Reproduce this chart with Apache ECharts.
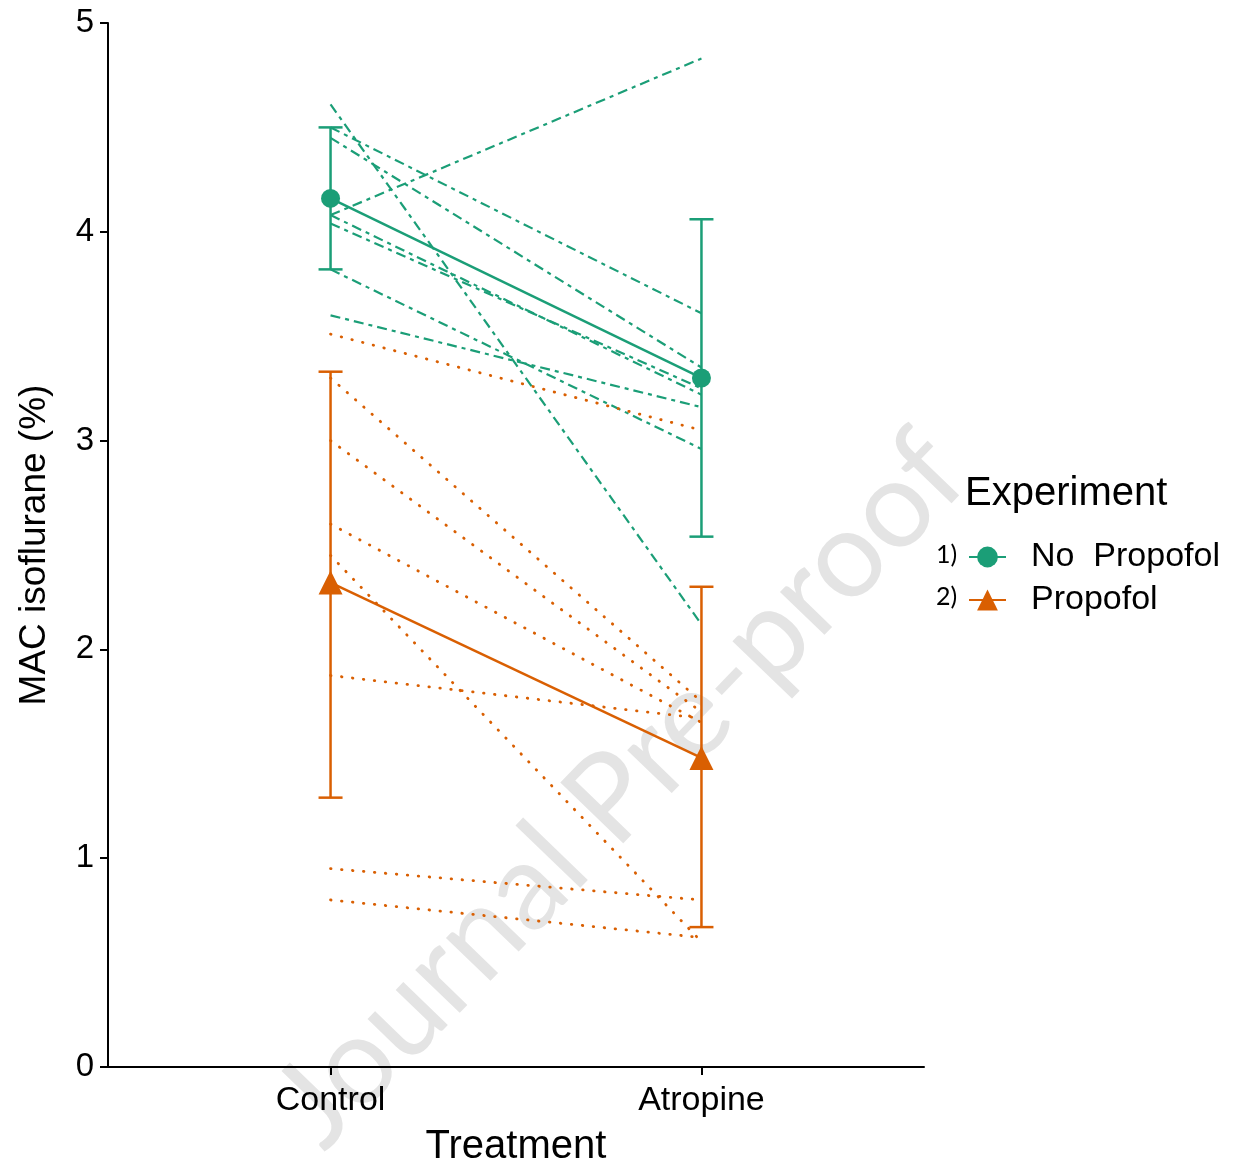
<!DOCTYPE html>
<html>
<head>
<meta charset="utf-8">
<script src="https://cdn.jsdelivr.net/npm/echarts@6/dist/echarts.min.js"></script>
<style>
html,body{margin:0;padding:0;background:#fff;}
#chart{width:1236px;height:1168px;}
</style>
</head>
<body>
<div id="chart"></div>
<script>
// ---- data ----
const categories = ['Control', 'Atropine'];
const catPos = [1, 2];
const yTicks = [0, 1, 2, 3, 4, 5];

// individual subjects, Experiment 1 (No Propofol)
const noPropofolControl  = [4.61, 4.50, 4.45, 4.08, 4.08, 4.04, 3.82, 3.60];
const noPropofolAtropine = [2.12, 3.61, 3.35, 4.83, 3.22, 3.25, 2.96, 3.16];
// individual subjects, Experiment 2 (Propofol)
const propofolControl  = [3.51, 3.30, 3.00, 2.60, 2.45, 1.875, 0.95, 0.80];
const propofolAtropine = [3.05, 1.75, 1.70, 1.65, 0.60, 1.67, 0.80, 0.62];

// means and error bars
const meanNoPropofol = [4.16, 3.30];
const errLowNoPropofol = [3.82, 2.54];
const errHighNoPropofol = [4.50, 4.06];
const meanPropofol = [2.32, 1.48];
const errLowPropofol = [1.29, 0.67];
const errHighPropofol = [3.33, 2.30];

const legendNames = ['No  Propofol', 'Propofol'];
const legendPrefixes = ['1)', '2)'];

// ---- styles ----
const GREEN = '#1b9e77';
const ORANGE = '#d95f02';
const FONT = "'Liberation Sans', Arial, sans-serif";

const series = [];

function addIndividuals(ctrl, atr, color, dashType, width, cap) {
  for (let i = 0; i < ctrl.length; i++) {
    series.push({
      type: 'line',
      silent: true,
      symbol: 'none',
      z: 3,
      lineStyle: { color: color, width: width, type: dashType, cap: cap },
      data: [[catPos[0], ctrl[i]], [catPos[1], atr[i]]]
    });
  }
}
addIndividuals(noPropofolControl, noPropofolAtropine, GREEN, [10, 5, 4, 5], 2.2, 'butt');
addIndividuals(propofolControl, propofolAtropine, ORANGE, [0.5, 10.5], 2.8, 'round');

function errorSeries(lo, hi, color) {
  return {
    type: 'custom',
    silent: true,
    z: 4,
    data: catPos.map((x, i) => [x, lo[i], hi[i]]),
    renderItem: function (params, api) {
      const x = api.value(0);
      const pLo = api.coord([x, api.value(1)]);
      const pHi = api.coord([x, api.value(2)]);
      const hw = 12;
      const st = { stroke: color, lineWidth: 2.5 };
      return {
        type: 'group',
        children: [
          { type: 'line', shape: { x1: pLo[0], y1: pLo[1], x2: pHi[0], y2: pHi[1] }, style: st },
          { type: 'line', shape: { x1: pLo[0] - hw, y1: pLo[1], x2: pLo[0] + hw, y2: pLo[1] }, style: st },
          { type: 'line', shape: { x1: pHi[0] - hw, y1: pHi[1], x2: pHi[0] + hw, y2: pHi[1] }, style: st }
        ]
      };
    }
  };
}
series.push(errorSeries(errLowNoPropofol, errHighNoPropofol, GREEN));
series.push(errorSeries(errLowPropofol, errHighPropofol, ORANGE));

series.push({
  name: legendNames[0],
  type: 'line',
  z: 5,
  symbol: 'circle',
  symbolSize: 19,
  itemStyle: { color: GREEN },
  lineStyle: { color: GREEN, width: 2.5 },
  data: catPos.map((x, i) => [x, meanNoPropofol[i]])
});
series.push({
  name: legendNames[1],
  type: 'line',
  z: 5,
  symbol: 'triangle',
  symbolSize: 24,
  itemStyle: { color: ORANGE },
  lineStyle: { color: ORANGE, width: 2.5 },
  data: catPos.map((x, i) => [x, meanPropofol[i]])
});

const chart = echarts.init(document.getElementById('chart'), null, { renderer: 'canvas' });
chart.setOption({
  animation: false,
  backgroundColor: '#ffffff',
  textStyle: { fontFamily: FONT },
  grid: { left: 108, right: 312, top: 23, bottom: 101, containLabel: false, outerBoundsMode: 'none' },
  xAxis: {
    type: 'value',
    min: 0.4,
    max: 2.6,
    splitLine: { show: false },
    axisLine: { show: true, onZero: false, lineStyle: { color: '#000', width: 2 } },
    axisTick: { show: true, length: 8, lineStyle: { color: '#000', width: 2 }, customValues: catPos },
    axisLabel: {
      show: true,
      customValues: catPos,
      fontSize: 34,
      color: '#000',
      fontFamily: FONT,
      margin: 17,
      formatter: function (v) { const i = catPos.indexOf(v); return i >= 0 ? categories[i] : ''; }
    },
    name: 'Treatment',
    nameLocation: 'middle',
    nameGap: 60,
    nameTextStyle: { fontSize: 40, color: '#000', fontFamily: FONT }
  },
  yAxis: {
    type: 'value',
    min: 0,
    max: 5,
    interval: 1,
    splitLine: { show: false },
    axisLine: { show: true, lineStyle: { color: '#000', width: 2 } },
    axisTick: { show: true, length: 8, lineStyle: { color: '#000', width: 2 } },
    axisLabel: { fontSize: 33, color: '#000', fontFamily: FONT, margin: 14 },
    name: 'MAC isoflurane (%)',
    nameLocation: 'middle',
    nameGap: 55,
    nameTextStyle: { fontSize: 37, color: '#000', fontFamily: FONT }
  },
  legend: {
    data: legendNames,
    orient: 'vertical',
    left: 968,
    top: 540,
    padding: 0,
    itemGap: 9,
    itemWidth: 37,
    itemHeight: 26,
    textStyle: { fontSize: 34, color: '#000', fontFamily: FONT, padding: [0, 0, 0, 20] },
    selectedMode: false
  },
  graphic: [
    {
      type: 'text',
      z: -10,
      silent: true,
      x: 620, y: 790,
      rotation: 46 * Math.PI / 180,
      style: {
        text: 'Journal Pre-proof',
        fontSize: 122,
        fontFamily: "Lato, 'Open Sans', sans-serif",
        fill: '#e4e4e4',
        align: 'center',
        verticalAlign: 'middle'
      }
    },
    {
      type: 'text', silent: true, x: 965, y: 494,
      style: { text: 'Experiment', fontSize: 40, fontFamily: FONT, fill: '#000', verticalAlign: 'middle' }
    },
    {
      type: 'text', silent: true, x: 936, y: 555,
      style: { text: legendPrefixes[0], fontSize: 25, fontFamily: "Lato, sans-serif", fill: '#000', verticalAlign: 'middle' }
    },
    {
      type: 'text', silent: true, x: 936, y: 597,
      style: { text: legendPrefixes[1], fontSize: 25, fontFamily: "Lato, sans-serif", fill: '#000', verticalAlign: 'middle' }
    }
  ],
  series: series
});
</script>
</body>
</html>
